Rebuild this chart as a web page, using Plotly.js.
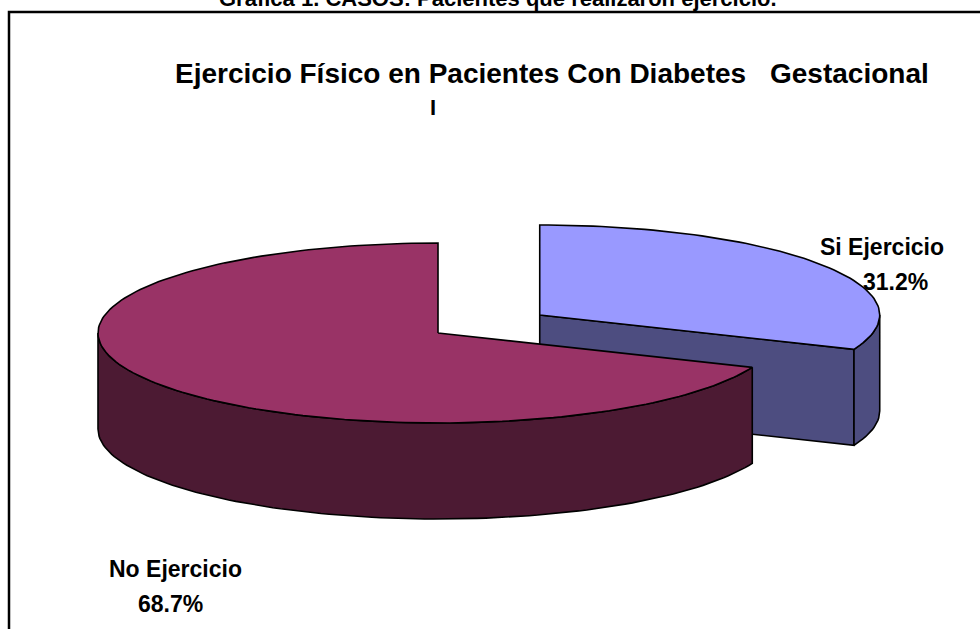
<!DOCTYPE html>
<html>
<head>
<meta charset="utf-8">
<script src="https://cdn.plot.ly/plotly-3.0.1.min.js"></script>
<style>html,body{margin:0;padding:0;background:#fff;}#chart{width:980px;height:629px;}</style>
</head>
<body>
<div id="chart"></div>
<script>
// ---- data ----
const labels = ['Si Ejercicio', 'No Ejercicio'];
const values = [31.2, 68.7];
const topColors = ['#9999FF', '#993366'];
const sideColors = ['#4D4D80', '#4C1A33'];
const pulls = [0.36, 0];
const pageTitle = 'Grafica 1. CASOS: Pacientes que realizaron ejercicio.';
const chartTitleA = 'Ejercicio Físico en Pacientes Con Diabetes';
const chartTitleB = 'Gestacional';

// ---- 3D pie geometry (drawn in a pixel-scaled cartesian space) ----
const W = 980, H = 629;
const cx = 438, cy = 333, ra = 340, rb = 90, depth = 96;
const rad = d => d * Math.PI / 180;
const total = values.reduce((s, v) => s + v, 0);

function pt(th, ox, oy, dz) {
  return [cx + ox + ra * Math.sin(rad(th)), cy + oy - rb * Math.cos(rad(th)) + dz];
}
function arc(t0, t1, ox, oy, dz) {
  const n = Math.max(2, Math.ceil(Math.abs(t1 - t0) / 1.5));
  const xs = [], ys = [];
  for (let i = 0; i <= n; i++) {
    const p = pt(t0 + (t1 - t0) * i / n, ox, oy, dz);
    xs.push(p[0]); ys.push(p[1]);
  }
  return [xs, ys];
}
function poly(xs, ys, fill) {
  return {
    type: 'scatter', mode: 'lines', x: xs.concat([xs[0]]), y: ys.concat([ys[0]]),
    fill: 'toself', fillcolor: fill, line: {color: '#000', width: 1.6},
    hoverinfo: 'skip', showlegend: false
  };
}

let acc = 0;
const slices = values.map((v, i) => {
  const ts = acc / total * 360;
  acc += v;
  const te = acc / total * 360;
  const mid = (ts + te) / 2;
  const ox = pulls[i] * ra * Math.sin(rad(mid));
  const oy = -pulls[i] * rb * Math.cos(rad(mid));
  let front = -Infinity;
  for (let t = ts; t <= te; t += 1) front = Math.max(front, pt(t, ox, oy, 0)[1]);
  return {i, ts, te, ox, oy, front};
});
slices.sort((p, q) => p.front - q.front);

const traces = [];
slices.forEach(s => {
  const {i, ts, te, ox, oy} = s;
  const side = sideColors[i], top = topColors[i];
  const ax = cx + ox, ay = cy + oy;
  if (Math.sin(rad(te)) > 1e-6) {
    const p = pt(te, ox, oy, 0);
    traces.push(poly([ax, p[0], p[0], ax], [ay, p[1], p[1] + depth, ay + depth], side));
  }
  if (Math.sin(rad(ts)) < -1e-6) {
    const p = pt(ts, ox, oy, 0);
    traces.push(poly([ax, p[0], p[0], ax], [ay, p[1], p[1] + depth, ay + depth], side));
  }
  const a0 = Math.max(ts, 90), a1 = Math.min(te, 270);
  if (a1 > a0) {
    const up = arc(a0, a1, ox, oy, 0);
    const dn = arc(a1, a0, ox, oy, depth);
    traces.push(poly(up[0].concat(dn[0]), up[1].concat(dn[1]), side));
  }
  const t = arc(ts, te, ox, oy, 0);
  traces.push(poly([ax].concat(t[0]), [ay].concat(t[1]), top));
});

// ---- text ----
const F = 'Liberation Sans, Arial, sans-serif';
function txt(text, x, y, size, xanchor) {
  return {text: '<b>' + text + '</b>', x: x, y: y, xref: 'x', yref: 'y', showarrow: false,
    xanchor: xanchor || 'center', yanchor: 'middle', font: {family: F, size: size, color: '#000'}};
}
const annotations = [
  {text: '<b>' + pageTitle + '</b>', x: 498, xref: 'x', y: 1, yref: 'paper',
   xanchor: 'center', yanchor: 'bottom', yshift: -13, showarrow: false,
   font: {family: F, size: 22, color: '#000'}},
  txt(chartTitleA, 173, 73, 28, 'left'),
  txt(chartTitleB, 931, 73, 28, 'right'),
  txt('I', 433, 107, 22),
  txt(labels[0], 882, 247, 23),
  txt(values[0].toFixed(1) + '%', 895, 282, 23),
  txt(labels[1], 175, 569, 23),
  txt(values[1].toFixed(1) + '%', 170, 604, 23)
];

const layout = {
  width: W, height: H, margin: {l: 0, r: 0, t: 0, b: 0},
  paper_bgcolor: '#fff', plot_bgcolor: '#fff', showlegend: false,
  xaxis: {range: [0, W], visible: false, fixedrange: true},
  yaxis: {range: [H, 0], visible: false, fixedrange: true},
  shapes: [{type: 'rect', xref: 'x', yref: 'y', x0: 9, y0: 12, x1: W + 20, y1: H + 20,
    line: {color: '#000', width: 2.5}, fillcolor: 'rgba(0,0,0,0)', layer: 'below'}],
  annotations: annotations
};
Plotly.newPlot('chart', traces, layout, {displayModeBar: false, staticPlot: true});
</script>
</body>
</html>
